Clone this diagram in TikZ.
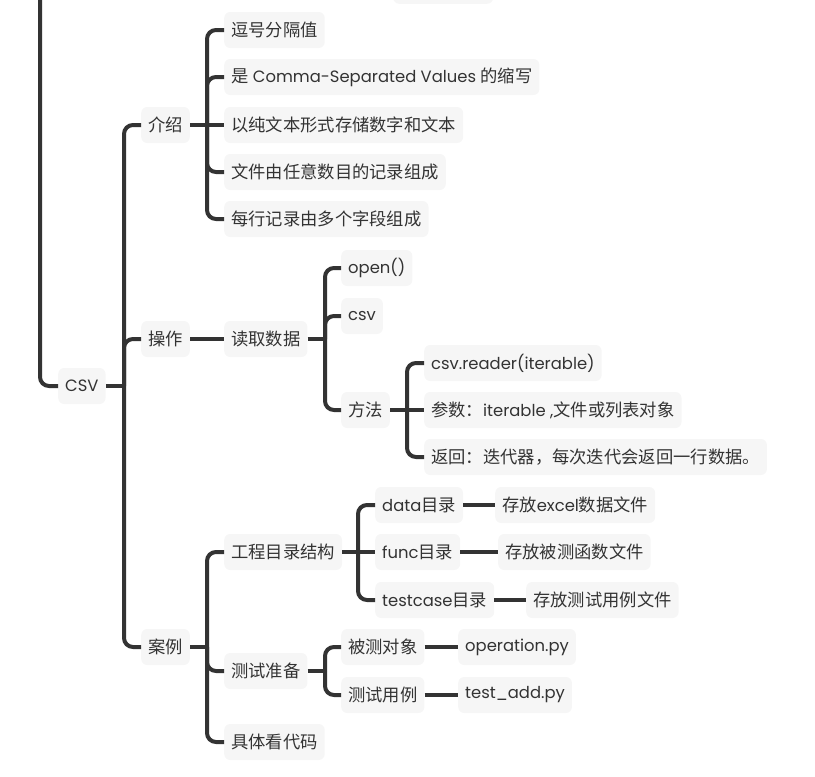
\documentclass[tikz,border=0pt]{standalone}
\usepackage{fontspec}
\setmainfont{Poppins}
\newfontfamily\cn[Scale=1.055]{Noto Sans CJK SC}
\newcommand\zh[1]{{\cn #1}}
\definecolor{boxbg}{HTML}{F6F6F6}
\definecolor{ln}{HTML}{333333}
\definecolor{txt}{HTML}{333333}
\begin{document}
\begin{tikzpicture}[x=1pt,y=-1pt,
  box/.style={fill=boxbg, rounded corners=6pt, inner xsep=7pt, inner ysep=0pt,
    minimum height=36pt, text=txt, font=\fontsize{16.4}{20}\selectfont, anchor=west},
  conn/.style={draw=ln, line width=4pt},
  elbow/.style={conn, rounded corners=9pt}]
\useasboundingbox (0,0) rectangle (815,777);

% partially visible node at the top
\node[box, minimum width=100pt, anchor=south west] (topnode) at (393,4) {};

% root
\node[box] (csv) at (58,386) {CSV};
\coordinate (up) at (40,-10);
\draw[elbow] (up) |- (csv.west);

% level 1
\node[box] (jieshao) at (141,125) {\zh{介绍}};
\node[box] (caozuo) at (141,339) {\zh{操作}};
\node[box] (anli) at (141,647) {\zh{案例}};
\coordinate (b0) at (124,386);
\draw[conn] (csv.east) -- (b0);
\foreach \c in {jieshao,caozuo,anli} \draw[elbow] (b0) |- (\c.west);

% 介绍 children
\node[box] (j1) at (224,30) {\zh{逗号分隔值}};
\node[box] (j2) at (224,77) {\zh{是} Comma-Separated Values \zh{的缩写}};
\node[box] (j3) at (224,125) {\zh{以纯文本形式存储数字和文本}};
\node[box] (j4) at (224,172) {\zh{文件由任意数目的记录组成}};
\node[box] (j5) at (224,219) {\zh{每行记录由多个字段组成}};
\coordinate (b1) at (207,125);
\draw[conn] (jieshao.east) -- (j3.west);
\foreach \c in {j1,j2,j4,j5} \draw[elbow] (b1) |- (\c.west);

% 操作 children
\node[box] (duqu) at (224,339) {\zh{读取数据}};
\draw[conn] (caozuo.east) -- (duqu.west);
\node[box] (open) at (341,268) {open()};
\node[box] (csvm) at (341,316) {csv};
\node[box] (fangfa) at (341,410) {\zh{方法}};
\coordinate (b2) at (325,339);
\draw[conn] (duqu.east) -- (b2);
\foreach \c in {open,csvm,fangfa} \draw[elbow] (b2) |- (\c.west);

\node[box] (f1) at (424,363) {csv.reader(iterable)};
\node[box] (f2) at (424,410) {\zh{参数：}iterable ,\zh{文件或列表对象}};
\node[box] (f3) at (424,457) {\zh{返回：迭代器，每次迭代会返回一行数据。}};
\coordinate (b3) at (407,410);
\draw[conn] (fangfa.east) -- (f2.west);
\foreach \c in {f1,f3} \draw[elbow] (b3) |- (\c.west);

% 案例 children
\node[box] (gc) at (224,552) {\zh{工程目录结构}};
\node[box] (zb) at (224,671) {\zh{测试准备}};
\node[box] (jt) at (224,742) {\zh{具体看代码}};
\coordinate (b4) at (207,647);
\draw[conn] (anli.east) -- (b4);
\foreach \c in {gc,zb,jt} \draw[elbow] (b4) |- (\c.west);

% 工程目录结构 children
\node[box] (d1) at (375,505) {data\zh{目录}};
\node[box] (d2) at (375,552) {func\zh{目录}};
\node[box] (d3) at (375,600) {testcase\zh{目录}};
\coordinate (b5) at (358,552);
\draw[conn] (gc.east) -- (d2.west);
\foreach \c in {d1,d3} \draw[elbow] (b5) |- (\c.west);
\node[box] (e1) at (495,505) {\zh{存放}excel\zh{数据文件}};
\node[box] (e2) at (498,552) {\zh{存放被测函数文件}};
\node[box] (e3) at (526,600) {\zh{存放测试用例文件}};
\draw[conn] (d1.east) -- (e1.west);
\draw[conn] (d2.east) -- (e2.west);
\draw[conn] (d3.east) -- (e3.west);

% 测试准备 children
\node[box] (t1) at (341,647) {\zh{被测对象}};
\node[box] (t2) at (341,695) {\zh{测试用例}};
\coordinate (b6) at (325,671);
\draw[conn] (zb.east) -- (b6);
\foreach \c in {t1,t2} \draw[elbow] (b6) |- (\c.west);
\node[box] (p1) at (458,647) {operation.py};
\node[box] (p2) at (458,695) {test\_add.py};
\draw[conn] (t1.east) -- (p1.west);
\draw[conn] (t2.east) -- (p2.west);
\end{tikzpicture}
\end{document}
